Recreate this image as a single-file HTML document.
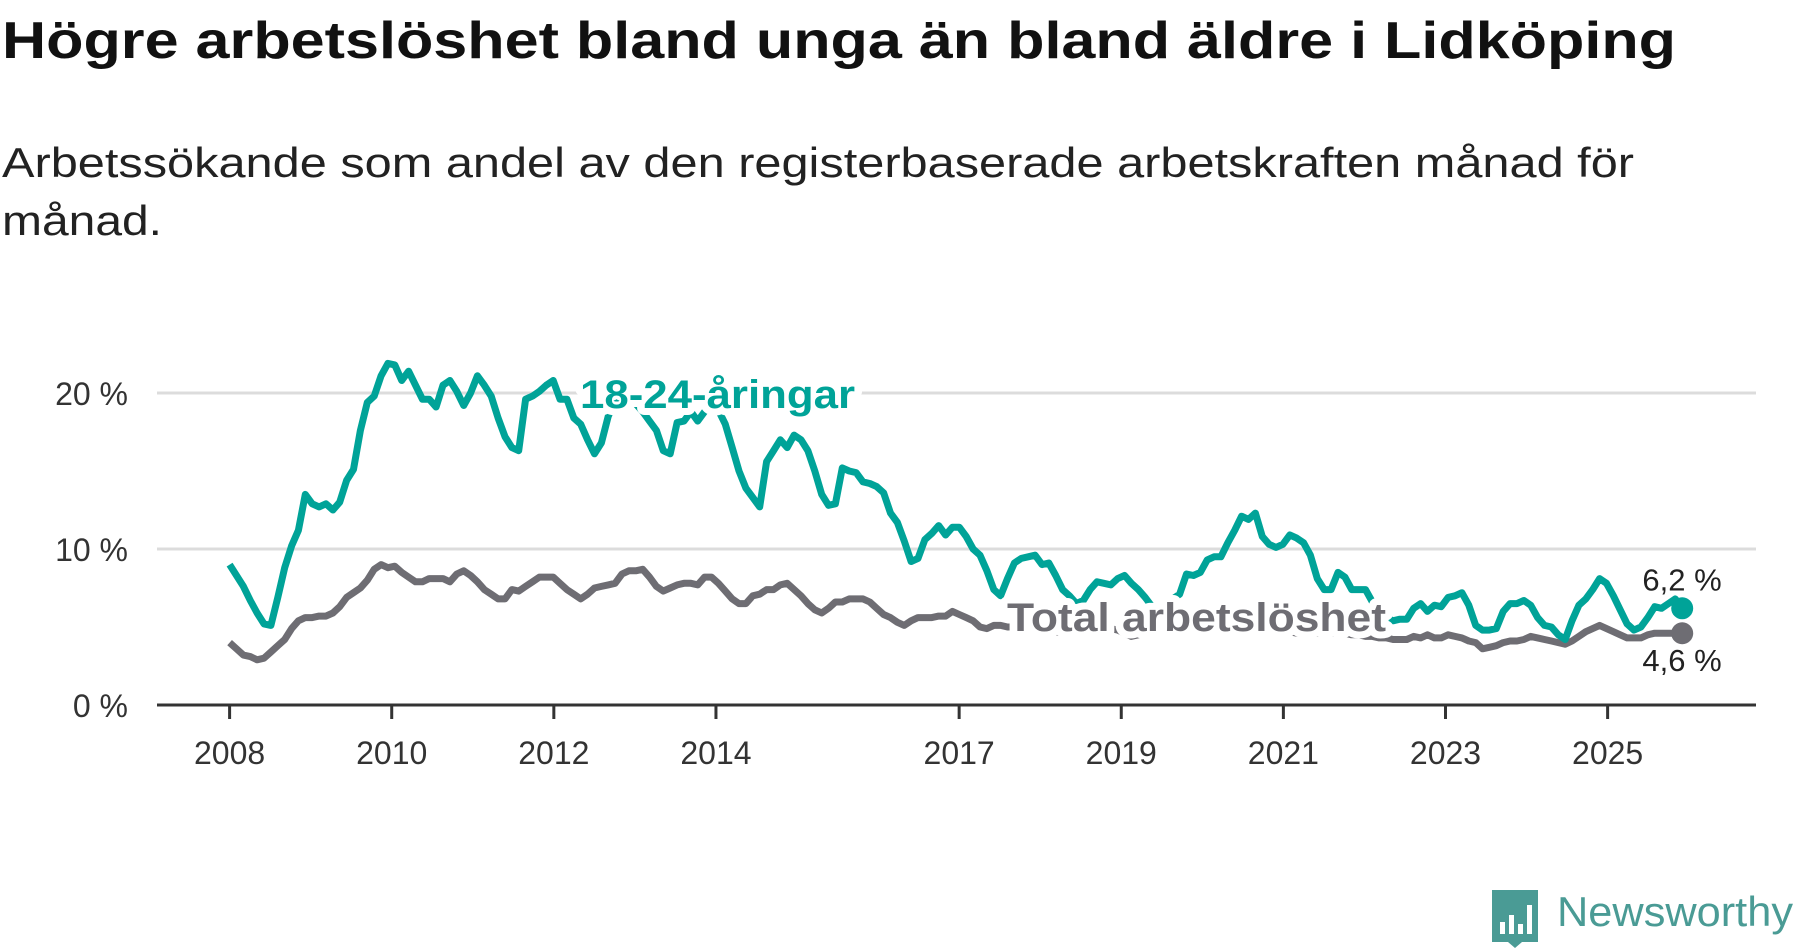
<!DOCTYPE html>
<html><head><meta charset="utf-8">
<style>
html,body{margin:0;padding:0;background:#fff;}
svg{display:block;font-family:"Liberation Sans",sans-serif;}
</style></head>
<body>
<svg id="chart" width="1800" height="948" viewBox="0 0 1800 948" xmlns="http://www.w3.org/2000/svg">
<text x="2" y="58" font-size="52" font-weight="bold" fill="#111" textLength="1674" lengthAdjust="spacingAndGlyphs">Högre arbetslöshet bland unga än bland äldre i Lidköping</text>
<text x="2" y="177" font-size="42" fill="#222" textLength="1632" lengthAdjust="spacingAndGlyphs">Arbetssökande som andel av den registerbaserade arbetskraften månad för</text>
<text x="2" y="235" font-size="42" fill="#222" textLength="160" lengthAdjust="spacingAndGlyphs">månad.</text>
<g id="grid"></g><g id="axis"></g><g id="lines"></g><g id="labels"></g>
<g>
<path d="M1492 890 h46 v52 h-16 l-7 6 l-7 -6 h-16 z" fill="#4a9b95"/>
<rect x="1500" y="922" width="5" height="12" fill="#fff"/><rect x="1509" y="915" width="5" height="19" fill="#fff"/><rect x="1518" y="924" width="5" height="10" fill="#fff"/><rect x="1527" y="905" width="5" height="29" fill="#fff"/>
<text x="1557" y="926" font-size="42" fill="#4a9b95" textLength="236" lengthAdjust="spacingAndGlyphs">Newsworthy</text>
</g>
</svg>
<script>
const yTicks=[0,10,20];
const yTickLabels=["0 %","10 %","20 %"];
const xTicks=[2008,2010,2012,2014,2017,2019,2021,2023,2025];
const startDate=2008.0, endDate=2025.92;
const youth=[9.0,8.3,7.6,6.7,5.9,5.2,5.1,6.9,8.8,10.2,11.2,13.5,12.9,12.7,12.9,12.5,13.0,14.4,15.1,17.6,19.4,19.8,21.1,21.9,21.8,20.8,21.4,20.5,19.6,19.6,19.1,20.5,20.8,20.1,19.2,20.0,21.1,20.5,19.8,18.4,17.2,16.5,16.3,19.6,19.8,20.1,20.5,20.8,19.6,19.6,18.4,18.0,17.0,16.1,16.8,
18.5,19.5,20.0,19.8,19.3,18.8,18.2,
17.6,16.3,16.1,18.1,18.2,18.8,18.2,18.8,19.2,18.9,18.0,16.5,15.0,13.9,13.3,12.7,
15.6,16.3,17.0,16.5,17.3,17.0,16.3,15.0,13.5,12.8,12.9,15.2,15.0,14.9,14.3,14.2,14.0,13.6,12.3,11.7,10.5,9.2,9.4,10.6,11.0,11.5,10.9,11.4,11.4,10.8,10.0,9.6,8.6,7.4,7.0,8.1,9.1,9.4,9.5,9.6,9.0,9.1,8.3,7.4,7.0,6.5,6.7,7.4,7.9,7.8,7.7,8.1,8.3,7.8,7.4,6.9,6.3,
6.2,6.5,
6.8,7.1,8.4,8.3,8.5,9.3,9.5,9.5,10.4,11.2,12.1,11.9,12.3,10.8,10.3,10.1,10.3,10.9,10.7,10.4,9.6,8.1,7.4,7.4,8.5,8.2,7.4,7.4,7.4,6.6,
6.0,5.6,5.4,
5.5,5.5,6.2,6.5,6.0,6.4,6.3,6.9,7.0,7.2,6.4,5.1,4.8,4.8,4.9,6.0,6.5,6.5,6.7,6.4,5.6,5.1,5.0,4.5,4.2,5.4,6.4,6.8,7.4,8.1,7.8,7.0,6.1,5.2,4.8,5.0,5.6,6.3,6.2,6.5,6.8,6.2];
const total=[4.0,3.6,3.2,3.1,2.9,3.0,3.4,3.8,4.2,4.9,5.4,5.6,5.6,5.7,5.7,5.9,6.3,6.9,7.2,7.5,8.0,8.7,9.0,8.8,8.9,8.5,8.2,7.9,7.9,8.1,8.1,8.1,7.9,8.4,8.6,8.3,7.9,7.4,7.1,6.8,6.8,7.4,7.3,7.6,7.9,8.2,8.2,8.2,7.8,7.4,7.1,6.8,7.1,7.5,7.6,7.7,7.8,8.4,8.6,8.6,8.7,8.2,7.6,7.3,7.5,7.7,7.8,7.8,7.7,8.2,8.2,7.8,7.3,6.8,6.5,6.5,7.0,7.1,7.4,7.4,7.7,7.8,7.4,7.0,6.5,6.1,5.9,6.2,6.6,6.6,6.8,6.8,6.8,6.6,6.2,5.8,5.6,5.3,5.1,5.4,5.6,5.6,5.6,5.7,5.7,6.0,5.8,5.6,5.4,5.0,4.9,5.1,
5.1,5.0,5.0,5.0,5.0,4.9,4.9,4.8,4.7,4.6,4.7,4.8,4.9,5.0,5.0,5.0,4.9,4.8,4.6,4.4,4.5,4.7,4.8,5.0,5.2,5.3,5.4,5.5,5.4,5.3,5.2,5.1,5.0,5.0,4.9,4.9,4.8,4.8,4.8,4.7,4.7,4.7,4.7,4.6,4.6,4.6,4.6,4.6,4.6,4.6,4.6,4.5,4.5,4.4,4.4,4.3,4.3,
4.2,4.2,4.2,4.4,4.3,4.5,4.3,4.3,4.5,4.4,4.3,4.1,4.0,3.6,3.7,3.8,4.0,4.1,4.1,4.2,4.4,4.3,4.2,4.1,4.0,3.9,4.1,4.4,4.7,4.9,5.1,4.9,4.7,4.5,4.3,4.3,4.3,4.5,4.6,4.6,4.6,4.6,4.6];
const endLabels=["6,2 %","4,6 %"];

const NS="http://www.w3.org/2000/svg";
const X0=229.6, PX_PER_YEAR=81.06, Y0=705, PX_PER_PCT=15.6;
const xs=d=>X0+(d-2008)*PX_PER_YEAR;
const ys=v=>Y0-v*PX_PER_PCT;
function mk(tag,attrs,parent){const e=document.createElementNS(NS,tag);for(const k in attrs)e.setAttribute(k,attrs[k]);parent.appendChild(e);return e;}
const grid=document.getElementById('grid'),axis=document.getElementById('axis'),lines=document.getElementById('lines'),labels=document.getElementById('labels');
yTicks.forEach((t,i)=>{
  if(t>0){const g=mk('line',{x1:157,x2:1756,y1:ys(t),y2:ys(t),stroke:'#dcdcdc','stroke-width':3},grid);
  
  }
  const tx=mk('text',{x:128,y:ys(t)+12,'font-size':32,fill:'#333','text-anchor':'end'},axis);tx.textContent=yTickLabels[i];
  
  
});
const ax=mk('line',{x1:157,x2:1756,y1:Y0,y2:Y0,stroke:'#333','stroke-width':3},axis);


xTicks.forEach(t=>{
  const tk=mk('line',{x1:xs(t),x2:xs(t),y1:Y0,y2:Y0+14,stroke:'#333','stroke-width':3},axis);
  
  
  const tx=mk('text',{x:xs(t),y:764,'font-size':32,fill:'#333','text-anchor':'middle'},axis);tx.textContent=t;
  
  
});
function dateOf(i,n){return startDate+i*(endDate-startDate)/(n-1);}
function path(arr){return arr.map((v,i)=>(i?'L':'M')+xs(dateOf(i,arr.length)).toFixed(1)+' '+ys(v).toFixed(1)).join(' ');}
const pt=mk('path',{d:path(total),fill:'none',stroke:'#6e6d73','stroke-width':7,'stroke-linejoin':'round'},lines);


const py=mk('path',{d:path(youth),fill:'none',stroke:'#00a398','stroke-width':7,'stroke-linejoin':'round'},lines);


const lt=total[total.length-1], ly=youth[youth.length-1];
const d1=mk('circle',{cx:xs(endDate),cy:ys(lt),r:11,fill:'#6e6d73'},lines);


const d2=mk('circle',{cx:xs(endDate),cy:ys(ly),r:11,fill:'#00a398'},lines);


const l1=mk('text',{x:1682,y:ys(ly)-18,'font-size':31,fill:'#222','text-anchor':'middle'},labels);l1.textContent=endLabels[0];


const l2=mk('text',{x:1682,y:ys(lt)+38,'font-size':31,fill:'#222','text-anchor':'middle'},labels);l2.textContent=endLabels[1];


const s1=mk('text',{x:580,y:408,'font-size':40,'font-weight':'bold',fill:'#00a398',stroke:'#fff','stroke-width':14,'paint-order':'stroke','stroke-linejoin':'round',textLength:275,lengthAdjust:'spacingAndGlyphs'},labels);s1.textContent='18-24-åringar';


const s2=mk('text',{x:1007,y:631,'font-size':40,'font-weight':'bold',fill:'#6e6d73',stroke:'#fff','stroke-width':14,'paint-order':'stroke','stroke-linejoin':'round',textLength:379,lengthAdjust:'spacingAndGlyphs'},labels);s2.textContent='Total arbetslöshet';


</script>
</body></html>
